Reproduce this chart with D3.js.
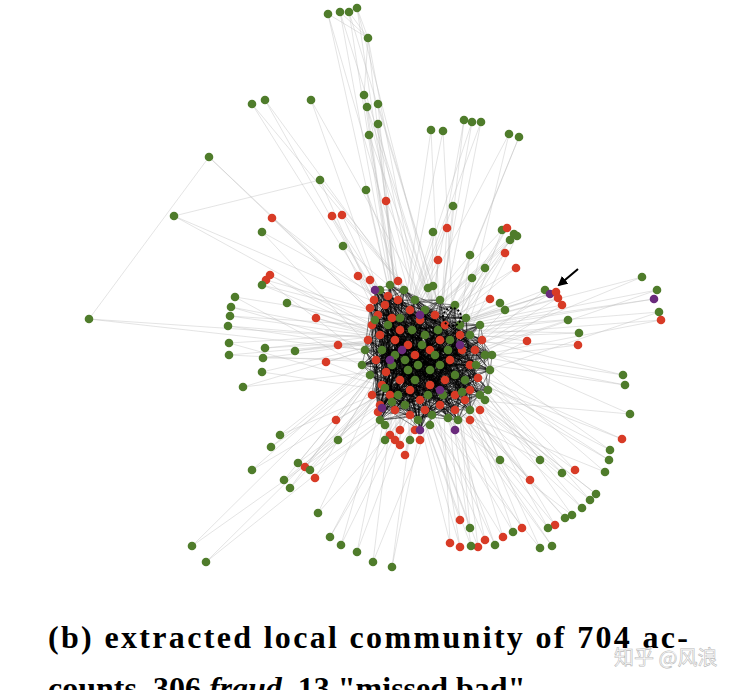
<!DOCTYPE html>
<html><head><meta charset="utf-8">
<script src="https://cdn.jsdelivr.net/npm/d3@7"></script>
<style>body{margin:0;background:#fff}svg{display:block}</style>
</head><body>
<script>
// Node layout coordinates (data space), class: g=legit, r=fraud, p=missed bad
const periphery = "328,14,g 340,12,g 349,12,g 357,8,g 368,38,g 252,104,g 265,100,g 311,100,g 364,95,g 367,107,g 378,104,g 369,135,g 378,124,g 431,130,g 443,131,g 464,120,g 472,122,g 481,122,g 509,134,g 519,137,g 209,157,g 174,216,g 89,319,g 320,180,g 366,190,g 453,206,g 272,218,r 262,232,g 332,216,r 342,215,r 386,201,r 343,246,g 433,232,g 447,228,r 502,230,g 507,228,r 514,234,g 510,240,g 517,236,g 505,253,r 485,268,g 516,268,r 470,255,g 266,280,r 270,275,r 262,285,g 287,303,g 235,297,g 231,307,g 230,316,g 228,326,g 229,343,g 229,355,g 265,348,g 263,358,g 262,372,g 243,387,g 295,351,g 316,318,r 326,362,r 338,345,r 358,276,r 370,280,r 398,281,r 438,260,r 428,288,g 433,286,g 472,278,g 490,299,r 500,303,g 505,310,g 545,290,g 550,294,p 556,292,r 558,298,r 562,305,r 568,320,g 579,333,g 578,345,r 527,341,r 642,277,g 654,299,p 657,290,g 659,312,g 661,320,r 623,375,g 625,385,g 630,414,g 622,439,r 610,450,g 609,460,g 605,472,g 596,494,g 590,500,g 582,508,g 572,515,g 565,518,g 555,525,r 548,528,g 540,548,g 552,546,g 575,470,r 562,473,g 540,460,g 530,480,r 522,528,r 513,532,g 503,537,r 495,545,g 485,540,r 478,547,r 471,546,g 460,547,r 450,543,r 470,528,g 460,520,r 298,463,g 305,467,r 315,478,r 310,470,g 284,480,g 290,488,g 318,513,g 330,537,g 341,545,g 357,552,g 373,562,g 392,567,g 336,420,r 338,440,g 192,546,g 206,562,g 252,470,g 271,447,g 280,435,g 385,425,g 390,435,r 395,440,r 400,445,r 405,455,r 410,440,g 385,440,g 400,430,r 415,430,r 420,440,r 430,425,g 455,430,p 470,420,r 480,410,r 485,400,g 500,460,g";
const core = "370,308,r 378,315,r 385,305,r 392,318,r 372,325,r 380,335,r 395,340,r 400,330,r 408,345,r 415,355,r 430,350,r 440,340,r 450,360,r 462,350,r 470,365,r 478,378,r 470,390,r 455,395,r 445,380,r 430,385,r 420,400,r 410,390,r 400,380,r 390,395,r 380,405,r 395,410,r 410,415,r 425,410,r 440,405,r 455,410,r 465,400,r 475,350,r 482,340,r 460,335,r 445,325,r 435,315,r 420,320,r 410,310,r 398,300,r 388,296,r 374,300,r 368,340,r 376,360,r 386,372,r 382,385,r 372,395,r 378,412,r 375,320,g 388,325,g 400,318,g 412,330,g 425,335,g 438,330,g 450,340,g 460,325,g 470,335,g 485,355,g 490,370,g 480,395,g 470,410,g 458,420,g 443,395,g 430,370,g 418,365,g 405,360,g 395,355,g 382,350,g 370,375,g 385,388,g 398,395,g 415,380,g 428,395,g 440,365,g 455,375,g 465,380,g 476,365,g 448,350,g 435,355,g 422,345,g 408,370,g 392,365,g 380,420,g 392,402,g 405,405,g 418,420,g 432,415,g 448,418,g 462,392,g 488,390,g 492,355,g 480,325,g 466,318,g 455,305,g 440,300,g 425,310,g 415,300,g 404,290,g 390,285,g 380,290,g 365,350,g 362,365,g 375,290,p 420,315,p 390,360,p 382,408,p 402,350,p 440,390,p 460,345,p 420,430,p";
const hubs = [[430,365],[400,340],[455,360],[415,395],[440,330],[395,375]];
const chains = [[0,4],[4,8],[20,22],[21,23],[1,4],[2,4],[3,4]];
const caption1 = "(b) extracted local community of 704 ac-";
const caption2 = ["counts, 306 ", "fraud", ", 13 \"missed bad\""];
const watermark = "知乎 @风浪";

const parse = s => s.split(" ").map(t => { const a = t.split(","); return {x:+a[0], y:+a[1], c:a[2]}; });
const pNodes = parse(periphery), cNodes = parse(core);
const W = 756, H = 690;
const x = d3.scaleLinear().domain([0, 756]).range([0, W]);
const y = d3.scaleLinear().domain([0, 690]).range([0, H]);
const color = d3.scaleOrdinal().domain(["g","r","p"]).range(["#4f7c2b","#d83b26","#6a2a7c"]);
const svg = d3.select("body").append("svg").attr("width", W).attr("height", H);

const edges = [];
pNodes.forEach((n, i) => { edges.push([n, hubs[i % 4]]); edges.push([n, hubs[(i * 3 + 1) % 6]]); });
chains.forEach(([a, b]) => edges.push([pNodes[a], pNodes[b]]));
const gE = svg.append("g");
gE.selectAll("line.p").data(edges).join("line")
  .attr("x1", d => x(d[0].x)).attr("y1", d => y(d[0].y))
  .attr("x2", d => x(d[1][0] ?? d[1].x)).attr("y2", d => y(d[1][1] ?? d[1].y))
  .attr("stroke", "#bbb").attr("stroke-opacity", 0.5).attr("stroke-width", 0.8);
const cEdges = [];
cNodes.forEach((n, i) => { for (let k = 0; k < 8; k++) cEdges.push([n, cNodes[(i * 7 + k * 13 + 5) % cNodes.length]]); });
gE.selectAll("line.c").data(cEdges).join("line")
  .attr("x1", d => x(d[0].x)).attr("y1", d => y(d[0].y))
  .attr("x2", d => x(d[1].x)).attr("y2", d => y(d[1].y))
  .attr("stroke", "#000").attr("stroke-opacity", 0.5).attr("stroke-width", 0.9);

const all = pNodes.concat(cNodes);
svg.append("g").selectAll("circle").data(all).join("circle")
  .attr("cx", d => x(d.x)).attr("cy", d => y(d.y)).attr("r", 4.3)
  .attr("fill", d => color(d.c));

svg.append("circle").attr("cx", x(452)).attr("cy", y(317)).attr("r", 9)
  .attr("fill", "none").attr("stroke", "#000").attr("stroke-width", 2).attr("stroke-dasharray", "2,2");
svg.append("defs").append("marker").attr("id","ah").attr("viewBox","0 0 10 10").attr("refX",8).attr("refY",5)
  .attr("markerWidth",5).attr("markerHeight",5).attr("orient","auto")
  .append("path").attr("d","M0,0L10,5L0,10z").attr("fill","#000");
svg.append("line").attr("x1", x(578)).attr("y1", y(269)).attr("x2", x(559)).attr("y2", y(285))
  .attr("stroke","#000").attr("stroke-width",2).attr("marker-end","url(#ah)");

const font = "'Liberation Serif','DejaVu Serif',serif";
svg.append("text").attr("x", 48).attr("y", 648).attr("font-family", font).attr("font-weight","bold")
  .attr("font-size", 32).attr("textLength", 640).attr("lengthAdjust","spacing").text(caption1);
const t2 = svg.append("text").attr("x", 48).attr("y", 699).attr("font-family", font).attr("font-weight","bold").attr("font-size", 32);
caption2.forEach((s, i) => t2.append("tspan").attr("font-style", i === 1 ? "italic" : null).text(s));
svg.append("text").attr("x", 614).attr("y", 665).attr("font-family","'Noto Sans CJK SC'").attr("font-size", 20)
  .attr("fill","#fff").attr("stroke","#bbb").attr("stroke-width",0.6).text(watermark);
</script>
</body></html>
